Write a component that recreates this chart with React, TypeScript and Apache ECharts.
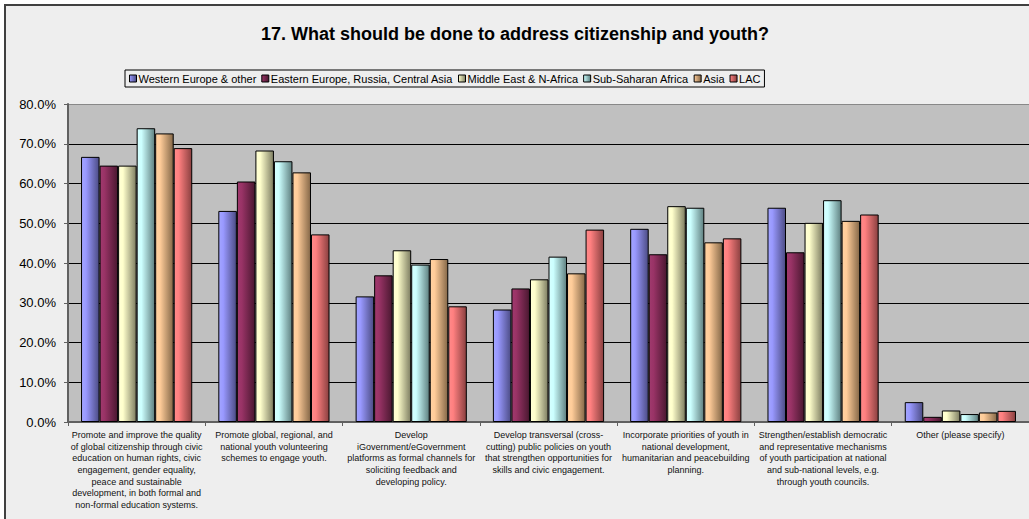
import React, { useEffect, useRef } from "react";
import * as echarts from "echarts";

const TITLE = "17. What should be done to address citizenship and youth?";

const CATEGORIES = [
  "Promote and improve the quality\nof global citizenship through civic\neducation on human rights, civic\nengagement, gender equality,\npeace and sustainable\ndevelopment, in both formal and\nnon-formal education systems.",
  "Promote global, regional, and\nnational youth volunteering\nschemes to engage youth.",
  "Develop\niGovernment/eGovernment\nplatforms as formal channels for\nsoliciting feedback and\ndeveloping policy.",
  "Develop transversal (cross-\ncutting) public policies on youth\nthat strengthen opportunities for\nskills and civic engagement.",
  "Incorporate priorities of youth in\nnational development,\nhumanitarian and peacebuilding\nplanning.",
  "Strengthen/establish democratic\nand representative mechanisms\nof youth participation at national\nand sub-national levels, e.g.\nthrough youth councils.",
  "Other (please specify)",
];

const SERIES_NAMES = [
  "Western Europe & other",
  "Eastern Europe, Russia, Central Asia",
  "Middle East & N-Africa",
  "Sub-Saharan Africa",
  "Asia",
  "LAC",
];

const WESTERN_EUROPE = [66.7, 53.1, 31.6, 28.3, 48.6, 53.9, 5.0];
const EASTERN_EUROPE = [64.5, 60.5, 36.9, 33.6, 42.2, 42.7, 1.3];
const MIDDLE_EAST = [64.5, 68.3, 43.2, 35.9, 54.3, 50.1, 2.9];
const SUB_SAHARAN = [73.9, 65.6, 39.6, 41.6, 53.9, 55.8, 2.0];
const ASIA = [72.6, 62.8, 41.0, 37.4, 45.2, 50.6, 2.4];
const LAC = [68.9, 47.2, 29.1, 48.4, 46.2, 52.2, 2.8];

const SERIES_VALUES = [WESTERN_EUROPE, EASTERN_EUROPE, MIDDLE_EAST, SUB_SAHARAN, ASIA, LAC];

const COLORS = [
  ["#A3A6FF", "#9999FF", "#4C4C85"],
  ["#A03A6E", "#993366", "#4A1830"],
  ["#FFFFD6", "#FFFFCC", "#7E7E62"],
  ["#D6FFFF", "#CCFFFF", "#5F8080"],
  ["#FFD2A2", "#FFCC99", "#856848"],
  ["#FF8A8A", "#FF8080", "#8A4040"],
];

const FONT = "'Liberation Sans', Arial, sans-serif";

export default function App() {
  const ref = useRef<HTMLDivElement>(null);

  useEffect(() => {
    if (!ref.current) return;
    const chart = echarts.init(ref.current, undefined, { renderer: "svg" });
    const option: any = {
      animation: false,
      backgroundColor: "transparent",
      textStyle: { fontFamily: FONT },
      title: {
        text: TITLE,
        left: 261,
        top: 25,
        padding: 0,
        textStyle: { fontFamily: FONT, fontSize: 18, fontWeight: "bold", color: "#000" },
      },
      legend: {
        left: 125,
        top: 70,
        padding: [3, 4, 3, 4],
        borderColor: "#000",
        borderWidth: 1,
        itemWidth: 7,
        itemHeight: 7,
        itemGap: 5,
        icon: "rect",
        textStyle: { fontFamily: FONT, fontSize: 11, color: "#000", padding: [0, 0, 0, -3] },
        data: SERIES_NAMES.map((n, i) => ({
          name: n,
          itemStyle: {
            color: new echarts.graphic.LinearGradient(0, 0, 1, 0, [
              { offset: 0, color: COLORS[i][1] },
              { offset: 1, color: COLORS[i][2] },
            ]),
            borderColor: "#000",
            borderWidth: 1,
          },
        })),
      },
      grid: {
        left: 68,
        top: 104,
        right: 0,
        bottom: 97,
        show: true,
        backgroundColor: "#C0C0C0",
        borderWidth: 0,
      },
      xAxis: {
        type: "category",
        data: CATEGORIES,
        axisLine: { show: true, lineStyle: { color: "#606060", width: 2 } },
        axisTick: { show: true, length: 4, lineStyle: { color: "#606060" } },
        axisLabel: {
          interval: 0,
          fontFamily: FONT,
          fontSize: 9,
          lineHeight: 11.7,
          color: "#111",
          margin: 7,
          align: "center",
        },
      },
      yAxis: {
        type: "value",
        min: 0,
        max: 80,
        interval: 10,
        axisLine: { show: true, lineStyle: { color: "#606060", width: 2 } },
        axisTick: { show: true, length: 4, lineStyle: { color: "#606060" } },
        axisLabel: {
          fontFamily: FONT,
          fontSize: 13,
          color: "#000",
          margin: 12,
          formatter: (v: number) => v.toFixed(1) + "%",
        },
        splitLine: {
          show: true,
          lineStyle: {
            color: ["#000", "#000", "#000", "#000", "#000", "#000", "#000", "#000", "#888"],
            width: 1,
          },
        },
      },
      series: SERIES_NAMES.map((n, i) => ({
        name: n,
        type: "bar",
        data: SERIES_VALUES[i],
        barGap: "0%",
        barCategoryGap: "19%",
        itemStyle: {
          borderColor: "#000",
          borderWidth: 1,
          color: new echarts.graphic.LinearGradient(0, 0, 1, 0, [
            { offset: 0, color: COLORS[i][0] },
            { offset: 0.25, color: COLORS[i][1] },
            { offset: 1, color: COLORS[i][2] },
          ]),
        },
      })),
    };
    chart.setOption(option);
    return () => chart.dispose();
  }, []);

  return (
    <div
      style={{
        position: "fixed",
        left: 0,
        top: 0,
        width: 1029,
        height: 519,
        background: "#fff",
        overflow: "hidden",
      }}
    >
      <div
        style={{
          position: "absolute",
          left: 4,
          top: 4,
          width: 1100,
          height: 600,
          border: "2px solid #404040",
          background: "#EEEEEE",
          boxSizing: "border-box",
        }}
      />
      <div ref={ref} style={{ position: "absolute", left: 0, top: 0, width: 1029, height: 519 }} />
    </div>
  );
}
